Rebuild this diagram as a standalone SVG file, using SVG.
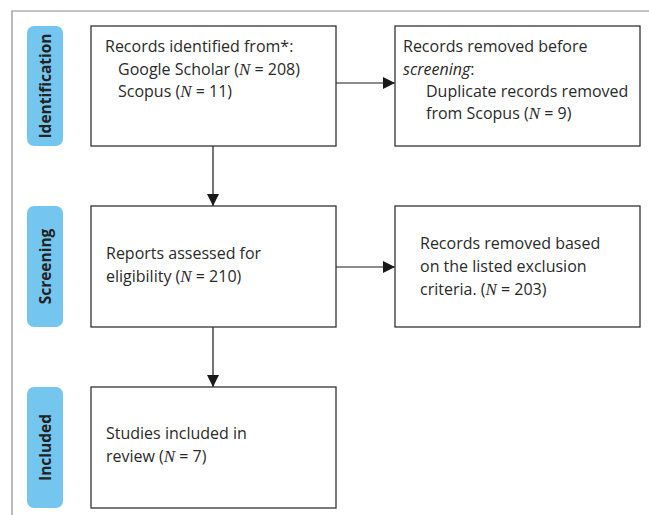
<svg xmlns="http://www.w3.org/2000/svg" width="649" height="515" viewBox="0 0 649 515">
<defs>
<marker id="ah" viewBox="0 0 10 10" refX="10" refY="5" markerWidth="12" markerHeight="12" markerUnits="userSpaceOnUse" orient="auto">
<path d="M0,0 L10,5 L0,10 z" fill="#1a1a1a"/>
</marker>
<style>
.frame{fill:none;stroke:#8a8a8a;stroke-width:1.2}
.pill{fill:#75C6EF}
.box{fill:#fff;stroke:#333;stroke-width:1.3}
.lab{font-family:"Open Sans","Noto Sans",sans-serif;font-weight:bold;font-size:15.5px;fill:#222;text-anchor:middle}
.t{font-family:"Open Sans","Noto Sans",sans-serif;font-size:16px;fill:#2a2a2a}
.n{font-family:"Liberation Serif",serif;font-style:italic;font-size:17px}
.i{font-style:italic}
.con{stroke:#1a1a1a;stroke-width:1.2;fill:none}
</style>
</defs>
<rect width="649" height="515" fill="#fff"/>
<path class="frame" d="M12,520 L12,11 L655,11"/>

<g id="stage-identification">
<rect class="pill" x="27" y="26" width="36" height="120" rx="7"/>
<text class="lab" transform="translate(50.5,86) rotate(-90)">Identification</text>
</g>
<g id="stage-screening">
<rect class="pill" x="27" y="206" width="36" height="121" rx="7"/>
<text class="lab" transform="translate(50.5,266.5) rotate(-90)">Screening</text>
</g>
<g id="stage-included">
<rect class="pill" x="27" y="387" width="36" height="121" rx="7"/>
<text class="lab" transform="translate(50.5,447.5) rotate(-90)">Included</text>
</g>

<g id="connectors">
<line class="con" x1="336" y1="83" x2="395" y2="83" marker-end="url(#ah)"/>
<line class="con" x1="213" y1="146" x2="213" y2="206" marker-end="url(#ah)"/>
<line class="con" x1="336" y1="267" x2="395" y2="267" marker-end="url(#ah)"/>
<line class="con" x1="213" y1="327" x2="213" y2="387" marker-end="url(#ah)"/>
</g>

<g id="node-identified">
<rect class="box" x="91" y="26" width="245" height="120"/>
<text class="t" x="105" y="52">Records identified from*:</text>
<text class="t" x="118" y="75">Google Scholar (<tspan class="n">N</tspan> = 208)</text>
<text class="t" x="118" y="97">Scopus (<tspan class="n">N</tspan> = 11)</text>
</g>
<g id="node-removed-before">
<rect class="box" x="395" y="26" width="245" height="120"/>
<text class="t" x="403" y="52">Records removed before</text>
<text class="t" x="403" y="75"><tspan class="i">screening</tspan>:</text>
<text class="t" x="426" y="97">Duplicate records removed</text>
<text class="t" x="426" y="119">from Scopus (<tspan class="n">N</tspan> = 9)</text>
</g>
<g id="node-assessed">
<rect class="box" x="91" y="206" width="245" height="121"/>
<text class="t" x="106" y="259">Reports assessed for</text>
<text class="t" x="106" y="282">eligibility (<tspan class="n">N</tspan> = 210)</text>
</g>
<g id="node-excluded">
<rect class="box" x="395" y="206" width="245" height="121"/>
<text class="t" x="420" y="249">Records removed based</text>
<text class="t" x="420" y="272">on the listed exclusion</text>
<text class="t" x="420" y="295">criteria. (<tspan class="n">N</tspan> = 203)</text>
</g>
<g id="node-included">
<rect class="box" x="91" y="387" width="245" height="121"/>
<text class="t" x="106" y="439">Studies included in</text>
<text class="t" x="106" y="462">review (<tspan class="n">N</tspan> = 7)</text>
</g>
</svg>
